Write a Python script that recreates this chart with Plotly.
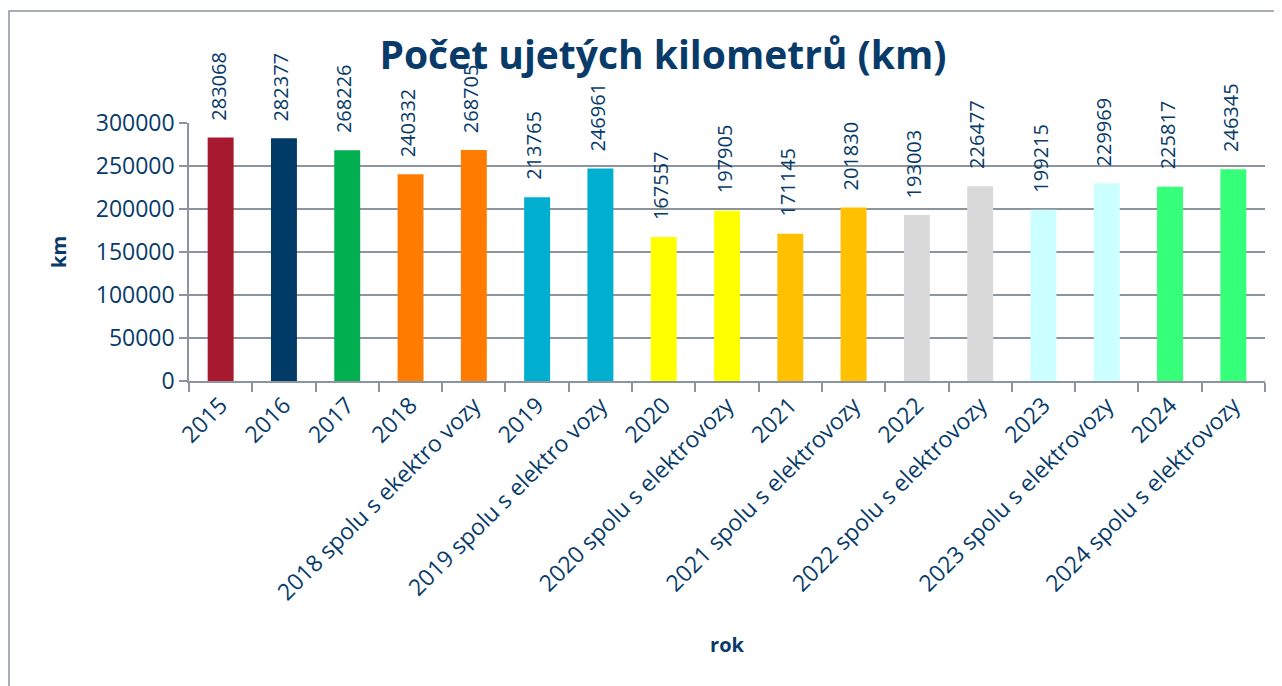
import plotly.graph_objects as go

categories = ["2015", "2016", "2017", "2018", "2018 spolu s ekektro vozy", "2019",
              "2019 spolu s elektro vozy", "2020", "2020 spolu s elektrovozy", "2021",
              "2021 spolu s elektrovozy", "2022", "2022 spolu s elektrovozy", "2023",
              "2023 spolu s elektrovozy", "2024", "2024 spolu s elektrovozy"]
values = [283068, 282377, 268226, 240332, 268705, 213765, 246961, 167557, 197905,
          171145, 201830, 193003, 226477, 199215, 229969, 225817, 246345]
colors = ["#A6192E", "#003A66", "#00B050", "#FF7C00", "#FF7C00", "#00AFD0", "#00AFD0",
          "#FFFF00", "#FFFF00", "#FFC000", "#FFC000", "#D9D9D9", "#D9D9D9",
          "#CCFFFF", "#CCFFFF", "#36FF7A", "#36FF7A"]
y_ticks = [0, 50000, 100000, 150000, 200000, 250000, 300000]

NAVY = "#083B69"
GRID = "#8C949E"
FONT = "Open Sans"

W, H = 1282, 686
L, R, T, B = 181, 25, 115, 313
PW, PH = W - L - R, H - T - B

fig = go.Figure()
fig.add_trace(go.Bar(x=categories, y=values, marker=dict(color=colors, line=dict(width=0)),
                     width=0.41, hoverinfo="x+y"))

for i, v in enumerate(values):
    fig.add_annotation(x=i, y=v, text=str(v), textangle=-90, showarrow=False,
                       xanchor="center", yanchor="bottom", yshift=15, xshift=-3,
                       font=dict(family=FONT, size=20, color=NAVY))

fig.update_layout(
    width=W, height=H,
    margin=dict(l=L, r=R, t=T, b=B, autoexpand=False),
    paper_bgcolor="white", plot_bgcolor="white",
    showlegend=False,
    title=dict(text="<b>Počet ujetých kilometrů (km)</b>", x=655 / W, xanchor="center",
               y=1 - 47 / H, yanchor="middle",
               font=dict(family=FONT, size=39, color=NAVY)),
    font=dict(family=FONT, color=NAVY),
)

fig.update_xaxes(type="category", range=[-0.5, len(categories) - 0.5], automargin=False,
                 tickangle=-45, tickson="boundaries", ticks="outside",
                 ticklen=9, tickwidth=1.5, tickcolor=GRID, showline=True, linecolor=GRID,
                 linewidth=1.5, showgrid=False,
                 tickfont=dict(family=FONT, size=23, color=NAVY),
                 title=dict(text="<b>rok</b>", font=dict(family=FONT, size=20, color=NAVY),
                            standoff=32))

fig.update_yaxes(range=[0, 300000], automargin=False, tickvals=y_ticks,
                 ticktext=[str(t) for t in y_ticks],
                 ticks="outside", ticklen=8, tickwidth=1.5, tickcolor=GRID,
                 showline=True, linecolor=GRID, linewidth=1.5,
                 showgrid=True, gridcolor=GRID, gridwidth=1.5, zeroline=False,
                 tickfont=dict(family=FONT, size=23, color=NAVY),
                 title=dict(text="<b>km</b>", font=dict(family=FONT, size=20, color=NAVY),
                            standoff=24))

# outer chart frame (top and left edges visible)
fig.add_shape(type="rect", xref="paper", yref="paper",
              x0=(1 - L) / PW, x1=(W + 20 - L) / PW,
              y0=(H - B - (H + 20)) / PH, y1=(H - B - 3) / PH,
              line=dict(color="#8C949E", width=1.5), layer="below")

fig.write_html("out.html")
